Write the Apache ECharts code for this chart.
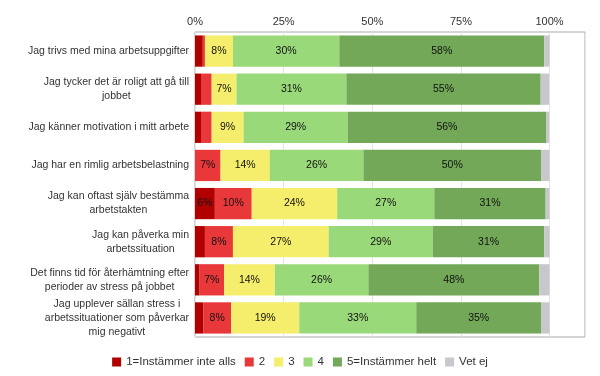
<!DOCTYPE html>
<html>
<head>
<meta charset="utf-8">
<script src="https://cdn.jsdelivr.net/npm/echarts@6/dist/echarts.min.js"></script>
<style>
  html, body { margin: 0; padding: 0; background: #fff; }
  #chart { width: 600px; height: 376px; }
</style>
</head>
<body>
<div id="chart"></div>
<script>
const categories = [
  'Jag trivs med mina arbetsuppgifter',
  'Jag tycker det är roligt att gå till\njobbet',
  'Jag känner motivation i mitt arbete',
  'Jag har en rimlig arbetsbelastning',
  'Jag kan oftast själv bestämma\narbetstakten',
  'Jag kan påverka min\narbetssituation',
  'Det finns tid för återhämtning efter\nperioder av stress på jobbet',
  'Jag upplever sällan stress i\narbetssituationer som påverkar\nmig negativt'
]

const seriesNames = ['1=Instämmer inte alls', '2', '3', '4', '5=Instämmer helt', 'Vet ej']

const val1 = [2.2, 1.7, 1.7, 0, 5.6, 2.8, 1.3, 2.3]
const val2 = [0.6, 3.0, 3.0, 7.2, 10.4, 7.9, 6.9, 7.9]
const val3 = [7.9, 7.0, 9.0, 13.9, 24.1, 27.0, 14.3, 19.2]
const val4 = [30.0, 31.0, 29.4, 26.4, 27.4, 29.4, 26.4, 33.0]
const val5 = [57.8, 54.8, 55.9, 50.1, 31.4, 31.4, 48.2, 35.2]
const valVetEj = [1.5, 2.4, 0.9, 2.4, 1.1, 1.5, 2.9, 2.4]

const xTicks = [0, 25, 50, 75, 100]

const colors = ['#b00000', '#e8383a', '#f5ee6c', '#9ad97a', '#72a857', '#c8c8cc']

const chart = echarts.init(document.getElementById('chart'))

const makeSeries = (name, data, i) => ({
  name,
  type: 'bar',
  stack: 'total',
  data,
  barCategoryGap: '18%',
  itemStyle: { color: colors[i] },
  label: {
    show: true,
    position: 'inside',
    color: '#111',
    fontSize: 10.5,
    fontFamily: 'Liberation Sans',
    formatter: (p) => (p.value >= 5 ? Math.round(p.value) + '%' : '')
  }
})

const option = {
  backgroundColor: '#fff',
  color: colors,
  animation: false,
  grid: {
    left: 195,
    right: 15,
    top: 32,
    bottom: 39,
    show: true,
    borderColor: '#aaaaaa',
    borderWidth: 1
  },
  legend: {
    bottom: 3,
    left: 'center',
    icon: 'rect',
    itemWidth: 9,
    itemHeight: 9,
    itemGap: 9,
    textStyle: { color: '#333', fontSize: 11.5, fontFamily: 'Liberation Sans' },
    data: seriesNames
  },
  xAxis: {
    type: 'value',
    position: 'top',
    min: 0,
    max: 110,
    interval: 25,
    axisLine: { show: false },
    axisTick: { show: false },
    axisLabel: {
      color: '#333',
      fontSize: 11,
      fontFamily: 'Liberation Sans',
      margin: 5,
      showMaxLabel: false,
      formatter: (v) => (xTicks.includes(v) ? v + '%' : '')
    },
    splitLine: { lineStyle: { color: '#e4e4e4' } }
  },
  yAxis: {
    type: 'category',
    inverse: true,
    data: categories,
    axisLine: { show: false },
    axisTick: { show: false },
    axisLabel: {
      color: '#333',
      fontSize: 10.5,
      fontFamily: 'Liberation Sans',
      margin: 6,
      lineHeight: 14,
      formatter: (v) => v.split('\n').map((s) => '{c|' + s + '}').join('\n'),
      rich: { c: { align: 'center', fontSize: 10.5, lineHeight: 14, color: '#333' } }
    }
  },
  series: [
    makeSeries(seriesNames[0], val1, 0),
    makeSeries(seriesNames[1], val2, 1),
    makeSeries(seriesNames[2], val3, 2),
    makeSeries(seriesNames[3], val4, 3),
    makeSeries(seriesNames[4], val5, 4),
    makeSeries(seriesNames[5], valVetEj, 5)
  ]
}

chart.setOption(option)
</script>
</body>
</html>
